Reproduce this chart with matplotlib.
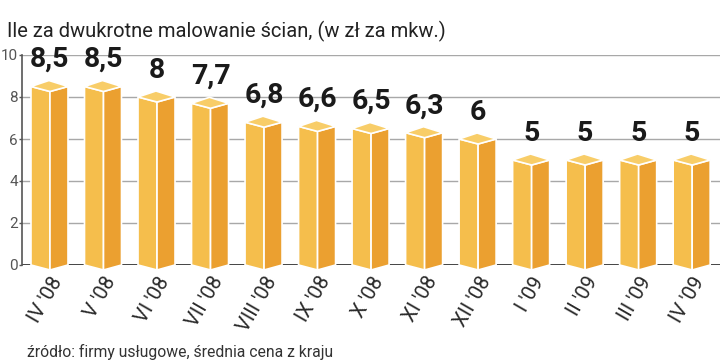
import numpy as np
import matplotlib
matplotlib.use("Agg")
import matplotlib.pyplot as plt
from matplotlib.patches import Polygon

months = ["IV '08", "V '08", "VI '08", "VII '08", "VIII '08", "IX '08", "X '08",
          "XI '08", "XII '08", "I '09", "II '09", "III '09", "IV '09"]
prices = [8.5, 8.5, 8.0, 7.7, 6.8, 6.6, 6.5, 6.3, 6.0, 5.0, 5.0, 5.0, 5.0]
labels = ["8,5", "8,5", "8", "7,7", "6,8", "6,6", "6,5", "6,3", "6", "5", "5", "5", "5"]
yticks = [0, 2, 4, 6, 8, 10]

title = "Ile za dwukrotne malowanie ścian, (w zł za mkw.)"
source = "źródło: firmy usługowe, średnia cena z kraju"

plt.rcParams['font.family'] = ['Roboto', 'DejaVu Sans']

fig = plt.figure(figsize=(7.2, 3.63), dpi=100)
ax = fig.add_axes([22/720, 98/363, 698/720, 210/363])

# pixel sizes of the fake 3d box, converted to data units
px_x = 1/53.5
px_y = 10/210.
left_w = 19*px_x
right_w = 18*px_x
dip = 5*px_y
rise = 6*px_y

front_c = "#F5BE4C"
side_c = "#EBA030"
top_c = "#F8CD68"

for i, v in enumerate(prices):
    x = i
    front = [(x-left_w, 0), (x-left_w, v), (x, v-dip), (x, -dip)]
    side = [(x, -dip), (x, v-dip), (x+right_w, v), (x+right_w, 0)]
    top = [(x-left_w, v), (x, v-dip), (x+right_w, v), (x-0.02, v+rise)]
    for pts, c in [(front, front_c), (side, side_c), (top, top_c)]:
        ax.add_patch(Polygon(pts, closed=True, facecolor=c, edgecolor="white",
                             linewidth=1.2, clip_on=False, zorder=3))
    ax.text(x, v+rise+0.35, labels[i], ha="center", va="bottom", fontsize=20.5,
            fontweight="bold", color="#1a1a1a", zorder=4)

for t in yticks[1:]:
    ax.axhline(t, color="#a8a8a8", linewidth=1, zorder=1)
ax.axhline(0, color="#333333", linewidth=2, zorder=2)

ax.set_xlim(-0.523, 12.52)
ax.set_ylim(0, 10)
ax.set_yticks(yticks)
ax.set_yticklabels([str(t) for t in yticks], fontsize=11, color="#555555")
ax.tick_params(axis="y", length=2, width=1, color="#555555", pad=1)
ax.set_xticks(range(len(months)))
ax.set_xticklabels(months, rotation=60, ha="right", va="top",
                   rotation_mode="anchor", fontsize=14.5, color="#2a2a2a")
ax.tick_params(axis="x", length=0, pad=6)

for s in ["top", "right", "bottom"]:
    ax.spines[s].set_visible(False)
ax.spines["left"].set_color("#555555")
ax.spines["left"].set_linewidth(1.2)

fig.text(7/720, 1-37/363, title, fontsize=14.5, color="#222222", va="baseline")
fig.text(27/720, 1-357/363, source, fontsize=11.3, color="#333333", va="baseline")

fig.savefig("out.png", dpi=100)
